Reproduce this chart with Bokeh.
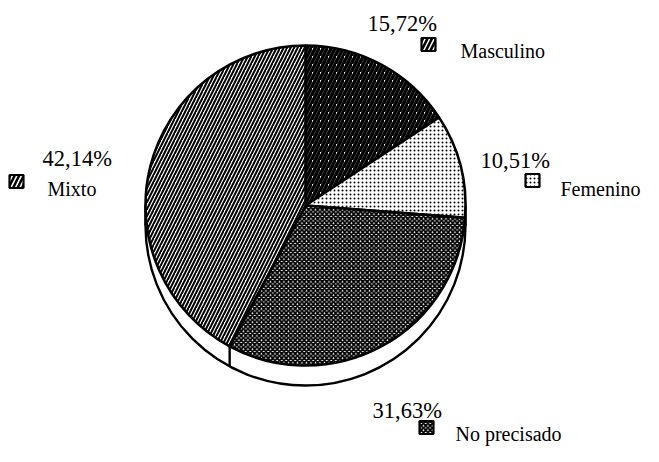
import math
from bokeh.plotting import figure
from bokeh.models import Range1d
from bokeh.core.properties import value
from bokeh.embed import file_html
from bokeh.resources import INLINE

# ---- data ----
categories = ["Masculino", "Femenino", "No precisado", "Mixto"]
shares = [15.72, 10.51, 31.63, 42.14]
pct_labels = ["15,72%", "10,51%", "31,63%", "42,14%"]

# ---- styling / layout (screen coords of the reference, y down) ----
H = 462
cx, cy, R, depth = 305, 205, 160, 20
hatch_pat = ["/", "dot", "x", "/"]
hatch_w = [3.4, 1.4, 1.9, 2.0]
hatch_sc = [8, 4, 4.5, 7]
pct_pos = [(367, 23), (480, 160), (372, 410), (42, 158)]
icon_pos = [(428, 44), (532, 180), (426, 427), (16, 181)]
name_pos = [(460, 50), (560, 188), (455, 433), (47, 188)]
icon_fill = ["black", "white", "white", "white"]
icon_hcol = ["white", "black", "black", "black"]
icon_hw = [1.5, 1.4, 1.9, 2.5]
icon_hs = [9, 4, 4.5, 9]

FONT = value("Liberation Serif")

p = figure(width=643, height=446, output_backend="svg", toolbar_location=None,
           x_range=Range1d(0, 643), y_range=Range1d(H - 446, H), min_border=0)
p.axis.visible = False
p.grid.visible = False
p.outline_line_color = None
p.background_fill_color = "white"

def Y(y):
    return H - y

# side wall (3D rim)
p.circle(x=[cx], y=[Y(cy + depth)], radius=R, fill_color="white",
         line_color="black", line_width=2.4)
p.quad(left=[cx - R], right=[cx + R], bottom=[Y(cy + depth)], top=[Y(cy)],
       fill_color="white", line_color=None)
p.segment(x0=[cx - R, cx + R], y0=[Y(cy), Y(cy)], x1=[cx - R, cx + R],
          y1=[Y(cy + depth), Y(cy + depth)], line_color="black", line_width=2.4)

# wedge angles: start at top, go clockwise
total = sum(shares)
starts, ends = [], []
acc = 0.0
for s in shares:
    a0 = math.pi / 2 - 2 * math.pi * acc / total
    acc += s
    a1 = math.pi / 2 - 2 * math.pi * acc / total
    starts.append(a0)
    ends.append(a1)

# slice boundary visible on the rim (No precisado / Mixto)
bx = cx + R * math.cos(ends[2])
by_ = Y(cy) + R * math.sin(ends[2])
p.segment(x0=[bx], y0=[by_], x1=[bx], y1=[by_ - depth], line_color="black", line_width=2.4)

for i in range(len(shares)):
    p.wedge(x=[cx], y=[Y(cy)], radius=R, start_angle=[starts[i]], end_angle=[ends[i]],
            direction="clock", fill_color="white", line_color="black", line_width=2.6,
            hatch_pattern=hatch_pat[i], hatch_color="black", hatch_weight=hatch_w[i],
            hatch_scale=hatch_sc[i])

for i in range(len(shares)):
    px, py = pct_pos[i]
    p.text(x=[px], y=[Y(py)], text=[pct_labels[i]], text_font=FONT,
           text_font_size="22.5px", text_baseline="alphabetic", text_align="left",
           text_color="black")
    nx, ny = name_pos[i]
    p.text(x=[nx], y=[Y(ny)], text=[categories[i]], text_font=FONT,
           text_font_size="20px", text_baseline="alphabetic", text_align="left",
           text_color="black")
    ix, iy = icon_pos[i]
    p.rect(x=[ix], y=[Y(iy)], width=14, height=13, fill_color=icon_fill[i],
           line_color="black", line_width=2.2, hatch_pattern=hatch_pat[i],
           hatch_color=icon_hcol[i], hatch_weight=icon_hw[i], hatch_scale=icon_hs[i])

open("out.html", "w").write(file_html(p, INLINE))
